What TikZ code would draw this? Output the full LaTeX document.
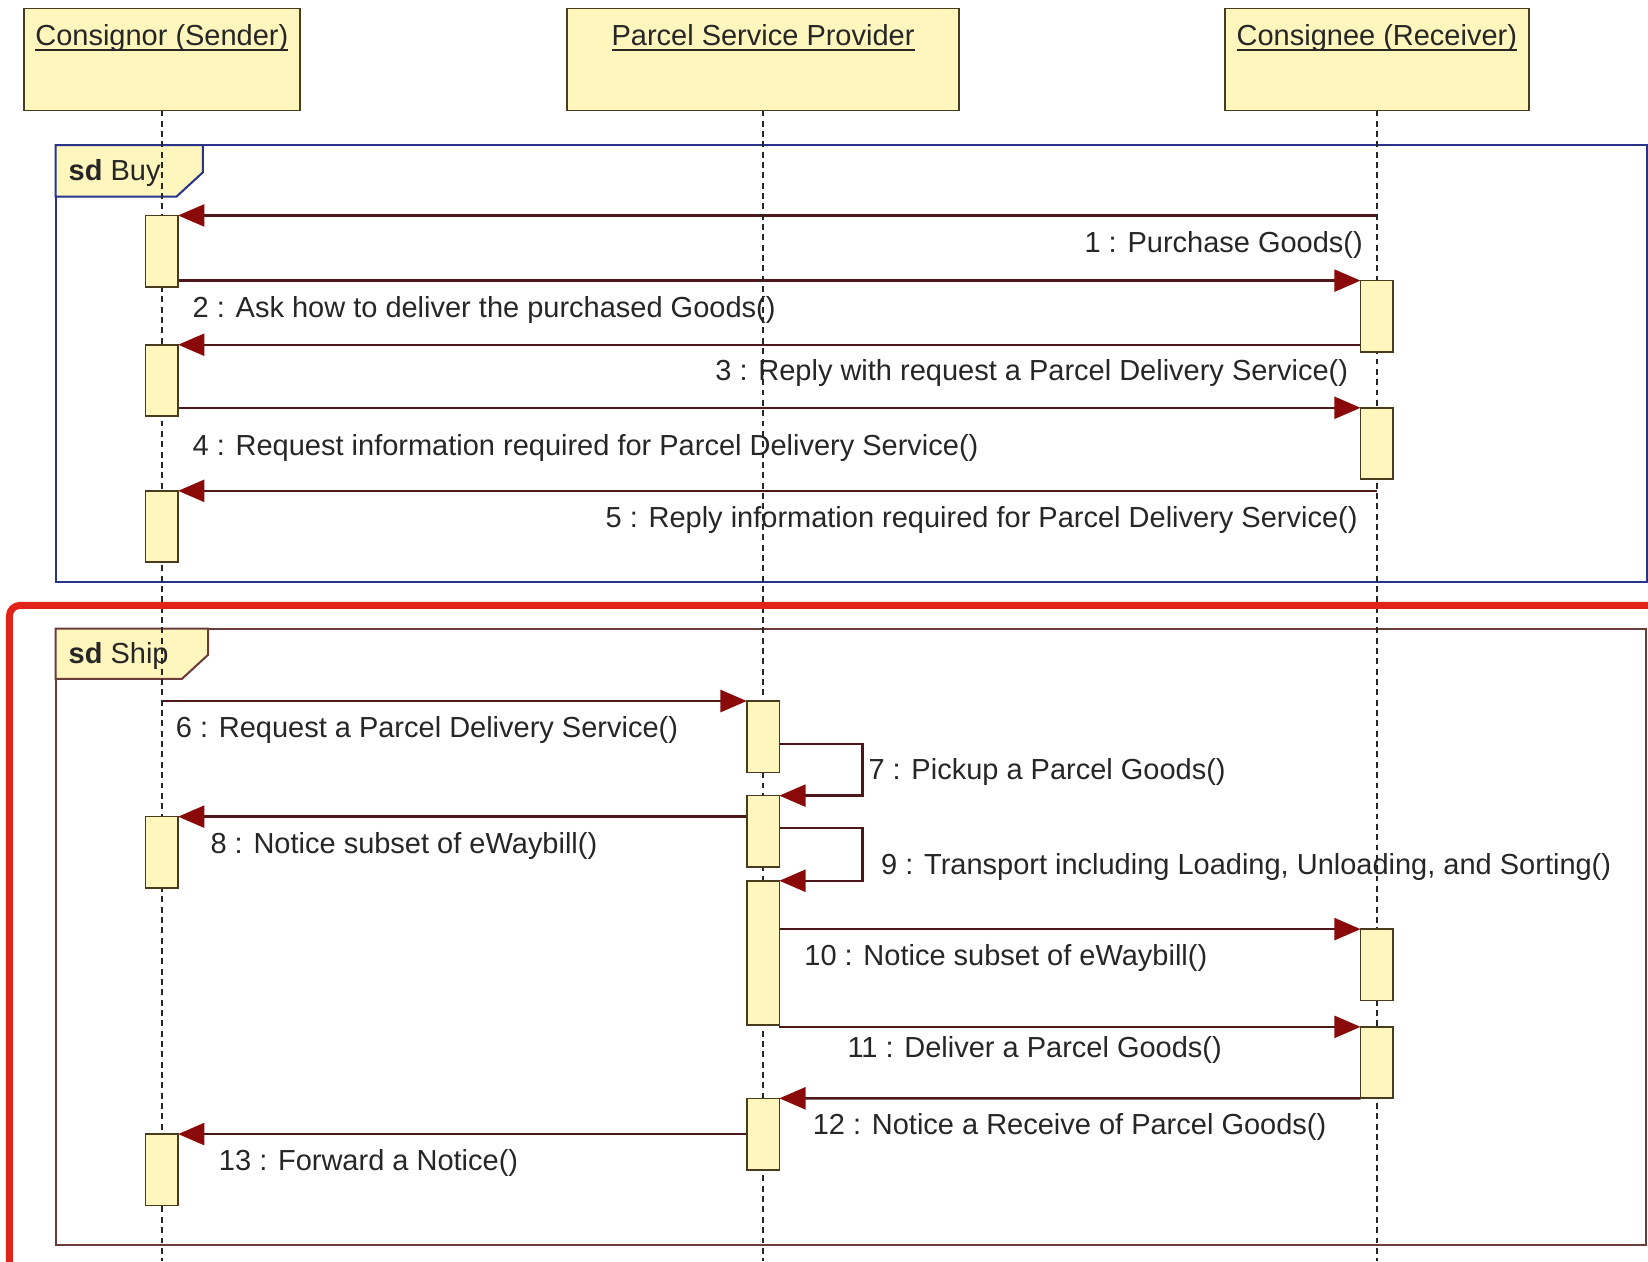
\documentclass[tikz,border=0pt]{standalone}
\usepackage{fontspec}
\setmainfont{Liberation Sans}
\usetikzlibrary{arrows.meta}
\usetikzlibrary{positioning}
\definecolor{objfill}{HTML}{FFF6BE}
\definecolor{objline}{HTML}{4A3A1E}
\definecolor{msgline}{HTML}{4A1818}
\definecolor{msgtip}{HTML}{8A0A0A}
\definecolor{buyline}{HTML}{28348A}
\definecolor{shipline}{HTML}{6A3C3C}
\definecolor{markred}{HTML}{E2231A}
\definecolor{txtgray}{HTML}{262626}
\newcommand{\objname}[1]{\setbox0=\hbox{#1}\rlap{\rule[-3pt]{\wd0}{0.9pt}}\box0}
\pgfdeclarelayer{frames}
\pgfdeclarelayer{lines}
\pgfdeclarelayer{boxes}
\pgfsetlayers{frames,main,lines,boxes}

\begin{document}
\begin{tikzpicture}[x=0.02cm,y=-0.02cm,
    every node/.style={text=txtgray,font=\fontsize{15.7}{18}\selectfont},
    obj/.style={draw=objline,fill=objfill,line width=0.9pt,inner sep=0pt,outer sep=0pt,
        minimum height=1.94cm,text height=0.7cm,text depth=1.24cm,anchor=north},
    act/.style={draw=objline,fill=objfill,line width=0.9pt,inner sep=0pt,outer sep=0pt,
        minimum width=0.62cm,minimum height=1.36cm,anchor=north},
    msg/.style={draw=msgline,line width=1.3pt,-{Triangle[length=0.5cm,width=0.42cm,color=msgtip]}},
    lifeline/.style={draw=txtgray,line width=1pt,dash pattern=on 3.2pt off 2.4pt},
    lbl/.style={anchor=base west,inner sep=0pt},
    lblr/.style={anchor=base east,inner sep=0pt}]
    \useasboundingbox (0,0) rectangle (1568,1200);

    % lifeline heads and activations
    \begin{pgfonlayer}{boxes}
    \node[obj,minimum width=5.26cm] (snd) at (154,8) {\objname{Consignor (Sender)}};
    \node[obj,minimum width=7.46cm] (psp) at (726,8) {\objname{Parcel Service Provider}};
    \node[obj,minimum width=5.78cm] (rcv) at (1310,8) {\objname{Consignee (Receiver)}};

    \node[act] (a1) at (154,205) {};
    \node[act] (a2) at (154,328) {};
    \node[act] (a3) at (154,467) {};
    \node[act] (a4) at (154,777) {};
    \node[act] (a5) at (154,1079) {};
    \node[act] (b1) at (1310,267) {};
    \node[act] (b2) at (1310,388) {};
    \node[act] (b3) at (1310,884) {};
    \node[act] (b4) at (1310,977) {};
    \node[act] (c1) at (726,667) {};
    \node[act] (c2) at (726,757) {};
    \node[act,minimum height=2.74cm] (c3) at (726,838) {};
    \node[act] (c4) at (726,1045) {};

    \draw[markred,line width=3.8pt,rounded corners=0.2cm] (1600,576) -- (9,576) -- (9,1230);
    \end{pgfonlayer}

    % frames
    \begin{pgfonlayer}{frames}
    \draw[buyline,line width=1.1pt] (53,138) rectangle (1567,554);
    \filldraw[fill=objfill,draw=buyline,line width=1.1pt]
    (53,138) -- (193,138) -- (193,164) -- (168,187) -- (53,187) -- cycle;
    \node[lbl] (buytag) at (65,172) {\textbf{sd} Buy};

    \draw[shipline,line width=1.1pt] (53,598) rectangle (1566,1185);
    \filldraw[fill=objfill,draw=shipline,line width=1.1pt]
    (53,598) -- (198,598) -- (198,623) -- (173,646) -- (53,646) -- cycle;
    \node[lbl] (shiptag) at (65,631) {\textbf{sd} Ship};
    \end{pgfonlayer}

    % lifelines
    \coordinate (bottom) at (0,1200);
    \begin{pgfonlayer}{lines}
    \draw[lifeline] (snd) -- (snd |- bottom);
    \draw[lifeline] (psp) -- (psp |- bottom);
    \draw[lifeline] (rcv) -- (rcv |- bottom);
    \end{pgfonlayer}

    % messages
    \draw[msg] (rcv |- a1.north) -- (a1.north east);
    \draw[msg] (a1.east |- b1.north) -- (b1.north west);
    \draw[msg] (b1.west |- a2.north) -- (a2.north east);
    \draw[msg] (a2.east |- b2.north) -- (b2.north west);
    \draw[msg] (rcv |- a3.north) -- (a3.north east);
    \draw[msg] (snd |- c1.north) -- (c1.north west);
    \draw[msg] ([yshift=-0.14cm]c1.east) -- ++(79,0) |- (c2.north east);
    \draw[msg] (c2.west |- a4.north) -- (a4.north east);
    \draw[msg] ([yshift=0.06cm]c2.east) -- ++(79,0) |- (c3.north east);
    \draw[msg] (c3.east |- b3.north) -- (b3.north west);
    \draw[msg] (c3.south east |- b4.north) -- (b4.north west);
    \draw[msg] (b4.south west) -- (c4.north east);
    \draw[msg] (c4.west |- a5.north) -- (a5.north east);

    \node[lblr] (t1) at (1297,240) {1 : Purchase Goods()};
    \node[lbl] (t2) at (183,302) {2 : Ask how to deliver the purchased Goods()};
    \node[lblr] (t3) at (1283,362) {3 : Reply with request a Parcel Delivery Service()};
    \node[lbl] (t4) at (183,433) {4 : Request information required for Parcel Delivery Service()};
    \node[lblr] (t5) at (1292,502) {5 : Reply information required for Parcel Delivery Service()};
    \node[lbl] (t6) at (167,702) {6 : Request a Parcel Delivery Service()};
    \node[lbl] (t7) at (826,742) {7 : Pickup a Parcel Goods()};
    \node[lbl] (t8) at (200,812) {8 : Notice subset of eWaybill()};
    \node[lbl] (t9) at (838,832) {9 : Transport including Loading, Unloading, and Sorting()};
    \node[lbl] (t10) at (765,919) {10 : Notice subset of eWaybill()};
    \node[lbl] (t11) at (806,1006) {11 : Deliver a Parcel Goods()};
    \node[lbl] (t12) at (773,1079) {12 : Notice a Receive of Parcel Goods()};
    \node[lbl] (t13) at (208,1114) {13 : Forward a Notice()};
\end{tikzpicture}
\end{document}
